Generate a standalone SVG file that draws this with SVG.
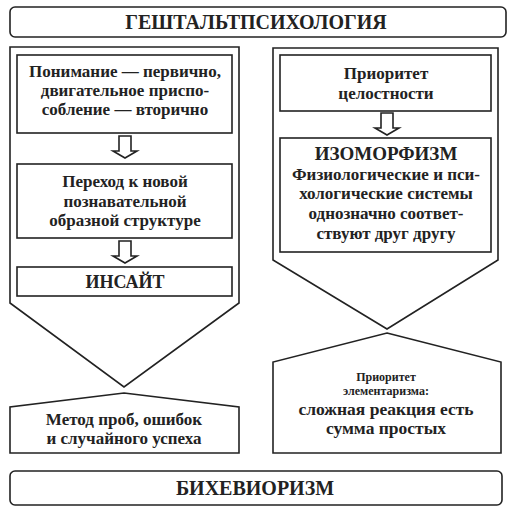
<svg xmlns="http://www.w3.org/2000/svg" width="509" height="514" viewBox="0 0 509 514">
<style>
.ln{fill:#fff;stroke:#222;stroke-width:1.6;stroke-linejoin:miter}
.t{font-family:"Liberation Serif","DejaVu Serif",serif;font-weight:bold;fill:#222;text-anchor:middle}
.m{font-size:17px}
.h{font-size:20px}
.s{font-size:12px}
</style>
<defs>
<path id="arr" d="M-6,0 H6 V15 H12 L0,22 L-12,15 H-6 Z"/>
</defs>
<rect x="0" y="0" width="509" height="514" fill="#fff"/>
<g id="title">
<rect class="ln" x="10" y="7" width="496" height="30" rx="5"/>
<text class="t h" x="256" y="29">ГЕШТАЛЬТПСИХОЛОГИЯ</text>
</g>
<g id="left-frame">
<polygon class="ln" points="10,47 239,47 239,303 124,387 10,303"/>
</g>
<g id="right-frame">
<polygon class="ln" points="273,48 498,48 498,260 387,329 273,260"/>
</g>
<g id="left-box1">
<rect class="ln" x="17" y="55" width="215" height="78"/>
<text class="t m" x="125" y="77">Понимание — первично,</text>
<text class="t m" x="125" y="96">двигательное приспо-</text>
<text class="t m" x="125" y="115">собление — вторично</text>
</g>
<g id="left-box2">
<rect class="ln" x="17" y="164" width="215" height="74"/>
<text class="t m" x="125" y="187">Переход к новой</text>
<text class="t m" x="125" y="207">познавательной</text>
<text class="t m" x="125" y="226">образной структуре</text>
</g>
<g id="left-box3">
<rect class="ln" x="17" y="267" width="215" height="29"/>
<text class="t" style="font-size:18px" x="125" y="288">ИНСАЙТ</text>
</g>
<g id="right-box1">
<rect class="ln" x="280" y="55" width="211" height="56"/>
<text class="t m" x="386" y="79">Приоритет</text>
<text class="t m" x="386" y="99">целостности</text>
</g>
<g id="right-box2">
<rect class="ln" x="280" y="138" width="211" height="114"/>
<text class="t" style="font-size:19px" x="386" y="160">ИЗОМОРФИЗМ</text>
<text class="t m" x="386" y="180">Физиологические и пси-</text>
<text class="t m" x="386" y="199">хологические системы</text>
<text class="t m" x="386" y="219">однозначно соответ-</text>
<text class="t m" x="386" y="239">ствуют друг другу</text>
</g>
<g id="left-bottom">
<polygon class="ln" points="124,393 239,407 239,453 10,453 10,407"/>
<text class="t m" x="124" y="425">Метод проб, ошибок</text>
<text class="t m" x="124" y="444">и случайного успеха</text>
</g>
<g id="right-bottom">
<polygon class="ln" points="387,333 501,362 501,453 273,453 273,362"/>
<text class="t s" x="386" y="381">Приоритет</text>
<text class="t s" x="386" y="395">элементаризма:</text>
<text class="t" style="font-size:17.5px" x="386" y="415">сложная реакция есть</text>
<text class="t" style="font-size:17.5px" x="386" y="434">сумма простых</text>
</g>
<g id="behaviorism">
<rect class="ln" x="10" y="471" width="492" height="34" rx="5"/>
<text class="t h" x="255" y="495">БИХЕВИОРИЗМ</text>
</g>
<g id="connectors">
<use href="#arr" class="ln" x="125" y="136"/>
<use href="#arr" class="ln" x="125" y="241"/>
<use href="#arr" class="ln" x="387" y="113"/>
</g>
</svg>
